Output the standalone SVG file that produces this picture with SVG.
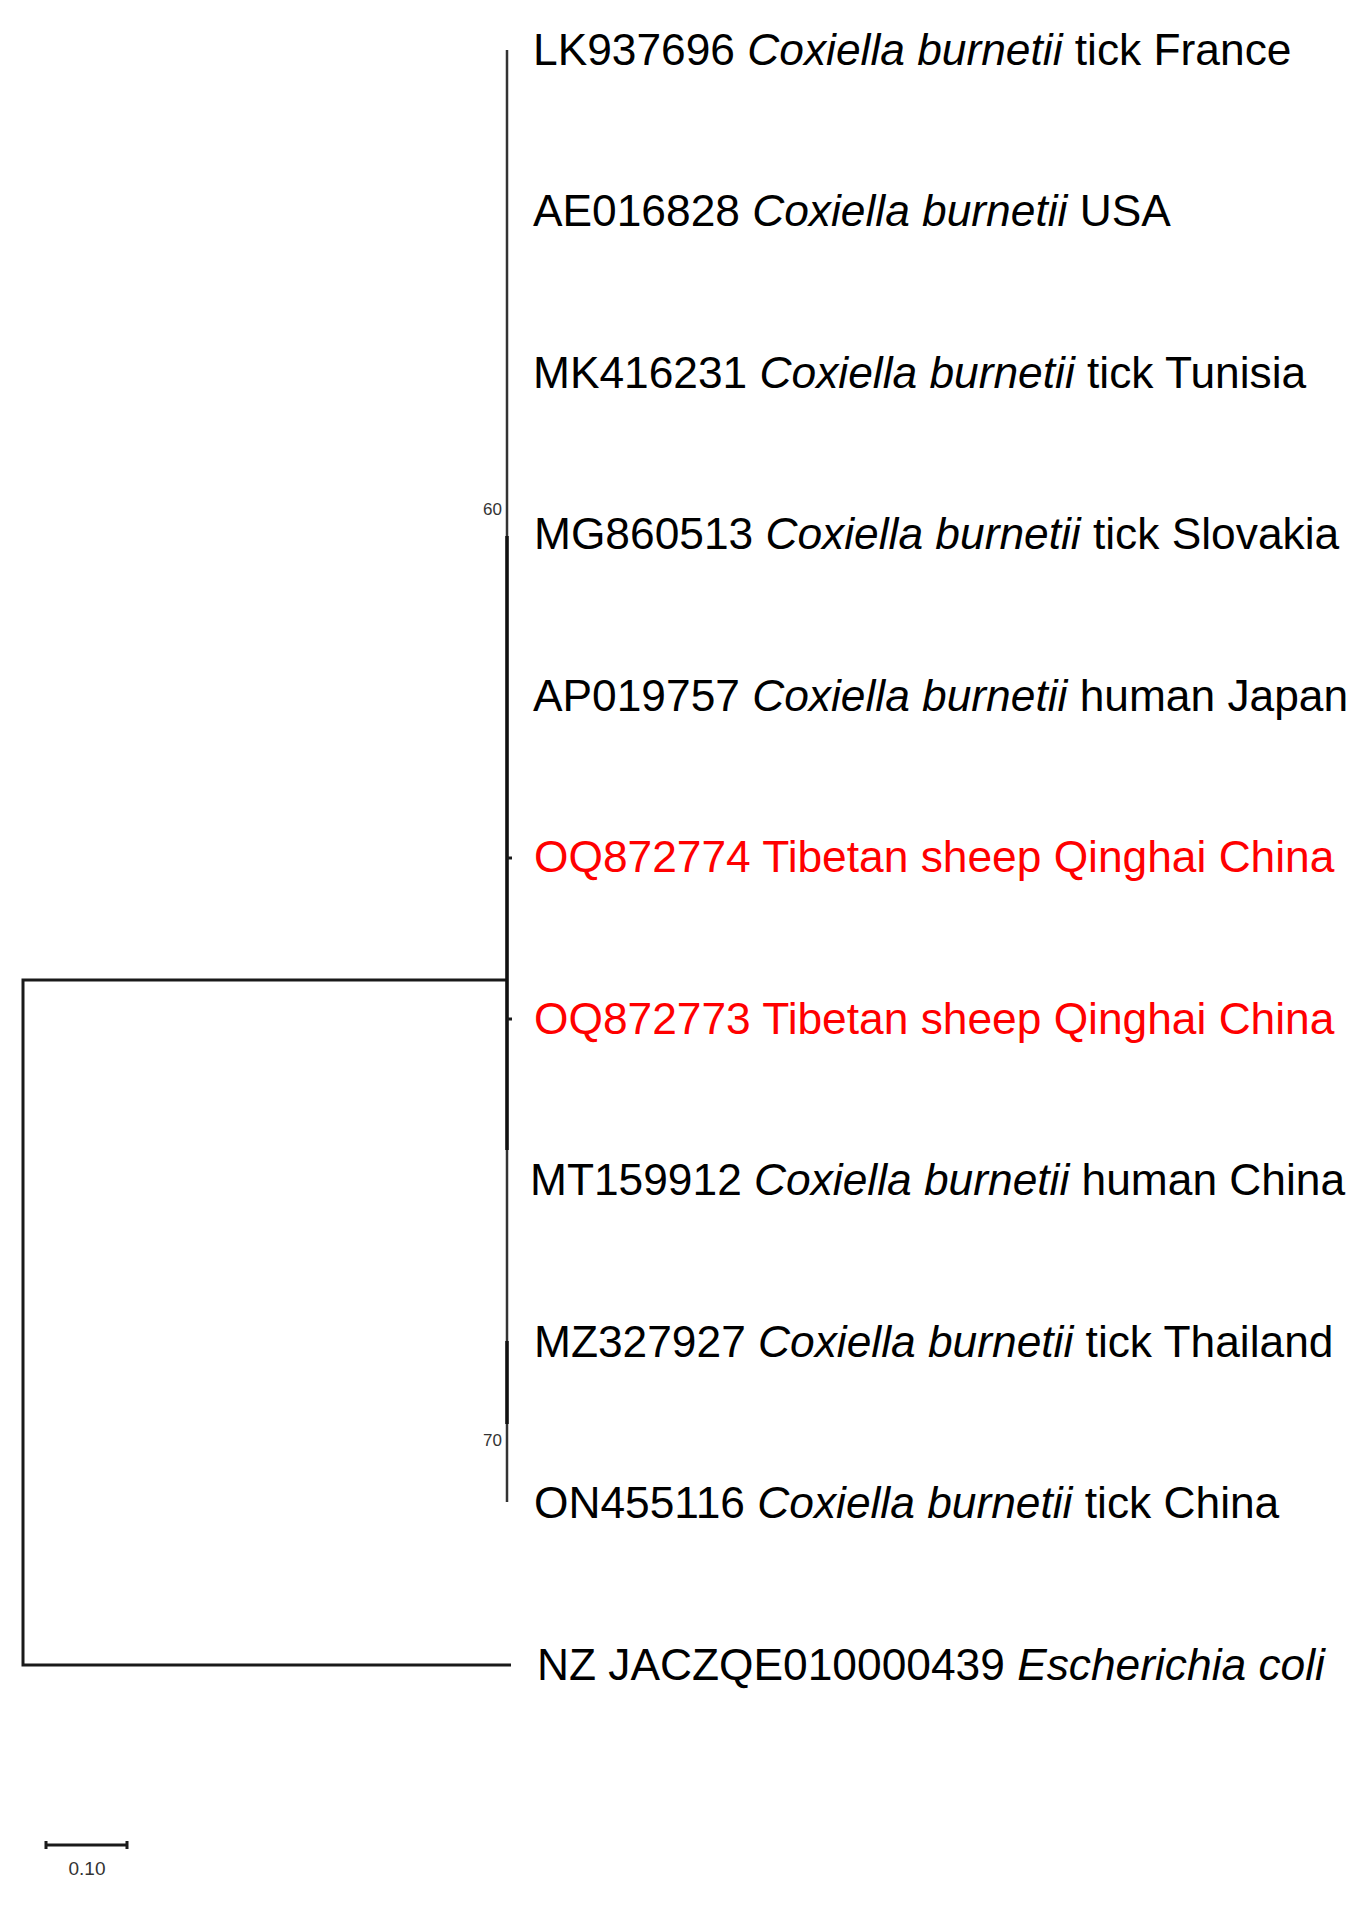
<svg xmlns="http://www.w3.org/2000/svg" width="1366" height="1912" viewBox="0 0 1366 1912">
<style>
.lbl{font-family:"Liberation Sans",Arial,sans-serif;font-size:44.3px;fill:#000}
.red{fill:#ff0000}
.it{font-style:italic}
.bs{font-family:"Liberation Sans",Arial,sans-serif;font-size:17px;fill:#333}
.br{stroke:#1a1a1a;stroke-width:3;fill:none;stroke-linecap:butt}
.thin{stroke:#333;stroke-width:2.5;fill:none}
.thick{stroke:#111;stroke-width:3.5;fill:none}
</style>
<rect width="1366" height="1912" fill="#fff"/>
<g id="connectors">
<path class="br" d="M511 1665 H23 V980 H507"/>
<line class="thin" x1="507" y1="50" x2="507" y2="1502"/>
<line class="thick" x1="507" y1="536" x2="507" y2="1150"/>
<line class="thick" x1="507" y1="1341" x2="507" y2="1424"/>
<line class="br" x1="507" y1="858" x2="512" y2="858"/>
<line class="br" x1="507" y1="1019" x2="512" y2="1019"/>
</g>
<g id="bootstrap">
<text class="bs" x="502" y="515" text-anchor="end">60</text>
<text class="bs" x="502" y="1446" text-anchor="end">70</text>
</g>
<g id="n1"><text class="lbl" x="533" y="65">LK937696 <tspan class="it">Coxiella burnetii</tspan> tick France</text></g>
<g id="n2"><text class="lbl" x="533" y="226">AE016828 <tspan class="it">Coxiella burnetii</tspan> USA</text></g>
<g id="n3"><text class="lbl" x="533" y="388">MK416231 <tspan class="it">Coxiella burnetii</tspan> tick Tunisia</text></g>
<g id="n4"><text class="lbl" x="534" y="549">MG860513 <tspan class="it">Coxiella burnetii</tspan> tick Slovakia</text></g>
<g id="n5"><text class="lbl" x="533" y="711">AP019757 <tspan class="it">Coxiella burnetii</tspan> human Japan</text></g>
<g id="n6"><text class="lbl red" x="534" y="872">OQ872774 Tibetan sheep Qinghai China</text></g>
<g id="n7"><text class="lbl red" x="534" y="1034">OQ872773 Tibetan sheep Qinghai China</text></g>
<g id="n8"><text class="lbl" x="530" y="1195">MT159912 <tspan class="it">Coxiella burnetii</tspan> human China</text></g>
<g id="n9"><text class="lbl" x="534" y="1357">MZ327927 <tspan class="it">Coxiella burnetii</tspan> tick Thailand</text></g>
<g id="n10"><text class="lbl" x="534" y="1518">ON455116 <tspan class="it">Coxiella burnetii</tspan> tick China</text></g>
<g id="n11"><text class="lbl" x="537" y="1680">NZ JACZQE010000439 <tspan class="it">Escherichia coli</tspan></text></g>
<g id="scalebar">
<path class="br" d="M46 1845 H127 M46 1841 V1849 M127 1841 V1849"/>
<text class="bs" x="87" y="1875" text-anchor="middle" style="font-size:19px">0.10</text>
</g>
</svg>
